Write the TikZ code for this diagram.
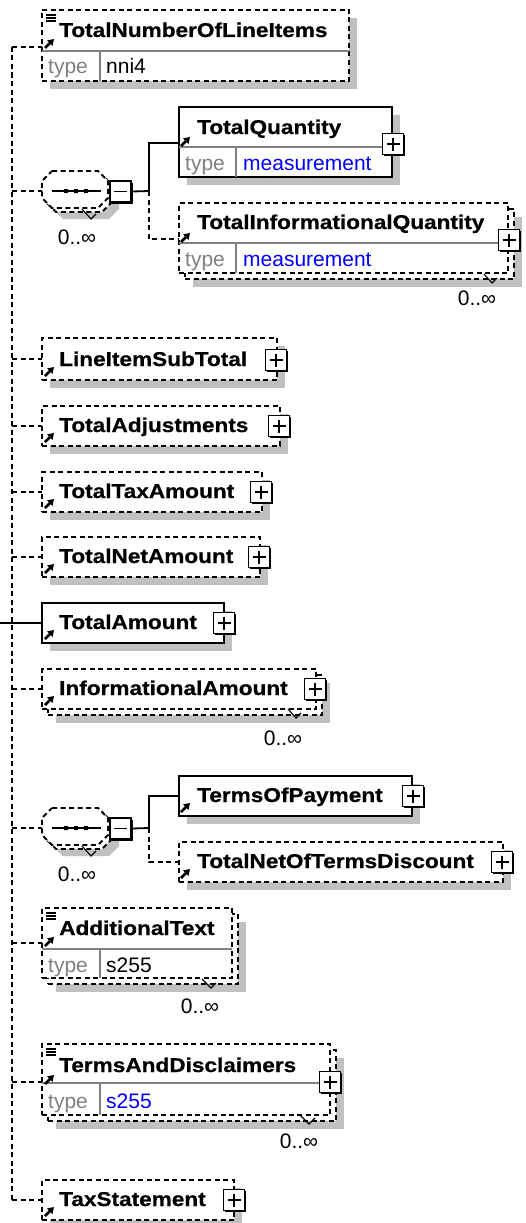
\documentclass[tikz,border=0pt]{standalone}
\usepackage{fontspec}
\setmainfont{Liberation Sans}
\newfontfamily\ttlfont[FakeBold=0.6]{Liberation Sans Bold}
\usetikzlibrary{shadows,arrows.meta,calc}
\definecolor{shd}{RGB}{192,192,192}
\definecolor{typegray}{RGB}{128,128,128}
\definecolor{valblue}{RGB}{0,0,255}
\begin{document}
\begin{tikzpicture}[x=1pt,y=-1pt,
  elem/.style={draw, fill=white, line width=1.8pt, inner sep=0pt, outer sep=0pt, anchor=north west},
  sh/.style={drop shadow={shadow xshift=8pt, shadow yshift=-8pt, fill=shd, opacity=1}},
  opt/.style={dash pattern=on 5pt off 3.5pt},
  div/.style={line width=1.2pt, draw=typegray},
  conn/.style={line width=1.8pt},
  dconn/.style={line width=1.8pt, dash pattern=on 5pt off 3.5pt},
  pbox/.style={draw, fill=white, line width=1.8pt, minimum size=21pt, inner sep=0pt,
    drop shadow={shadow xshift=1.8pt, shadow yshift=-1.8pt, fill=black, opacity=1},
    path picture={\draw[line width=1.5pt] ([xshift=4pt]path picture bounding box.west) -- ([xshift=-4pt]path picture bounding box.east)
      ([yshift=-4pt]path picture bounding box.north) -- ([yshift=4pt]path picture bounding box.south);}},
  mbox/.style={draw, fill=white, line width=1.8pt, minimum size=21pt, inner sep=0pt,
    drop shadow={shadow xshift=1.8pt, shadow yshift=-1.8pt, fill=black, opacity=1},
    path picture={\draw[line width=1.5pt] ([xshift=4pt]path picture bounding box.west) -- ([xshift=-4pt]path picture bounding box.east);}},
  ttl/.style={font=\ttlfont\fontsize{20}{20}\selectfont, xscale=1.13, anchor=base west, inner sep=0pt},
  typ/.style={font=\fontsize{21}{21}\selectfont, text=typegray, anchor=base west, inner sep=0pt},
  val/.style={font=\fontsize{21}{21}\selectfont, anchor=base west, inner sep=0pt},
  occ/.style={font=\fontsize{21}{21}\selectfont, anchor=base, inner sep=0pt},
  ico/.style={line width=2.5pt, -{Triangle[length=6pt,width=7.5pt]}},
  lst/.style={line width=1.1pt},
  notch/.style={line width=1.1pt}
]
\useasboundingbox (0,0) rectangle (526,1223);

% ---------- trunk ----------
\coordinate (ttop) at (12,47);
\coordinate (rootin) at (0,623);

% ---------- TotalNumberOfLineItems ----------
\node[elem, sh, opt, minimum width=307pt, minimum height=71pt] (tnli) at (42,10) {};
\draw[div] (42,51) -- (349,51);
\draw[div] (100,51) -- (100,81);
\node[ttl] (tnlit) at (59,37) {TotalNumberOfLineItems};
\node[typ] (tnlity) at (48,74) {type};
\node[val] (tnliv) at (106,74) {nni4};
\draw[lst] (46,15) -- (56,15) (46,18) -- (56,18) (46,21) -- (56,21);
\draw[ico] (45,48) -- (54,39);
\coordinate (tnliin) at ([yshift=-37pt]tnli.north west);

% ---------- sequence 1 ----------
\fill[shd] (63,182) -- (109,182) -- (119,192) -- (119,209) -- (109,219) -- (63,219) -- (53,209) -- (53,192) -- cycle;
\draw[line width=1.8pt, opt, fill=white] (56,175) -- (102,175) -- (112,185) -- (112,202) -- (102,212) -- (56,212) -- (46,202) -- (46,185) -- cycle;
\draw[line width=1.8pt, opt, fill=white] (52,171) -- (98,171) -- (108,181) -- (108,198) -- (98,208) -- (52,208) -- (42,198) -- (42,181) -- cycle;
\coordinate (s1w) at (42,191);
\draw[line width=1.8pt] (52,191) -- (101,191);
\fill (64,189) rectangle (68,193) (74,189) rectangle (78,193) (84,189) rectangle (88,193);
\draw[notch] (82,209) -- (91,219) -- (96,214);
\node[mbox] (m1) at (120.5,191.5) {};
\node[occ] (o1) at (77,244) {0..∞};
\coordinate (b1) at (149,191);

% TotalQuantity
\node[elem, sh, minimum width=213pt, minimum height=70pt] (tq) at (179,107) {};
\draw[div] (179,147) -- (392,147);
\draw[div] (236,147) -- (236,177);
\node[ttl] (tqt) at (197,134) {TotalQuantity};
\node[typ] (tqty) at (185,170) {type};
\node[val, text=valblue] (tqv) at (243,170) {measurement};
\draw[ico] (181,146) -- (190,137);
\node[pbox] (tqp) at (393,144) {};

% TotalInformationalQuantity
\node[elem, sh, opt, minimum width=329pt, minimum height=70pt] (tiqb) at (185,209) {};
\node[elem, opt, minimum width=329pt, minimum height=70pt] (tiq) at (179,203) {};
\draw[div] (179,243) -- (508,243);
\draw[div] (236,243) -- (236,273);
\node[ttl] (tiqt) at (197,229) {TotalInformationalQuantity};
\node[typ] (tiqty) at (185,266) {type};
\node[val, text=valblue] (tiqv) at (243,266) {measurement};
\draw[ico] (181,242) -- (190,233);
\node[pbox] (tiqp) at (509,240) {};
\draw[notch] (484,274) -- (492,283) -- (497,278);
\node[occ] (o2) at (477,305) {0..∞};

\draw[dconn] (ttop |- s1w) -- (s1w);
\draw[conn] (m1.east) -- (b1) |- ([yshift=-36pt]tq.north west);
\draw[dconn] (b1) |- ([yshift=-36pt]tiq.north west);

% ---------- simple elements ----------
\node[elem, sh, opt, minimum width=235pt, minimum height=42pt] (lis) at (42,338) {};
\node[ttl] (list) at (59,366) {LineItemSubTotal};
\draw[ico] (45,376) -- (54,367);
\node[pbox] (lisp) at (276,360) {};

\node[elem, sh, opt, minimum width=238pt, minimum height=40pt] (tadj) at (42,406) {};
\node[ttl] (tadjt) at (59,432) {TotalAdjustments};
\draw[ico] (45,442) -- (54,433);
\node[pbox] (tadjp) at (279,426) {};

\node[elem, sh, opt, minimum width=220pt, minimum height=40pt] (tta) at (42,472) {};
\node[ttl] (ttat) at (59,498) {TotalTaxAmount};
\draw[ico] (45,508) -- (54,499);
\node[pbox] (ttap) at (261,492) {};

\node[elem, sh, opt, minimum width=218pt, minimum height=40pt] (tna) at (42,537) {};
\node[ttl] (tnat) at (59,563) {TotalNetAmount};
\draw[ico] (45,573) -- (54,564);
\node[pbox] (tnap) at (259,557) {};

\node[elem, sh, minimum width=182pt, minimum height=40pt] (tam) at (42,603) {};
\node[ttl] (tamt) at (59,629) {TotalAmount};
\draw[ico] (45,639) -- (54,630);
\node[pbox] (tamp) at (224,623) {};

\node[elem, sh, opt, minimum width=274pt, minimum height=40pt] (iab) at (48,675) {};
\node[elem, opt, minimum width=274pt, minimum height=40pt] (ia) at (42,669) {};
\node[ttl] (iat) at (59,695) {InformationalAmount};
\draw[ico] (45,705) -- (54,696);
\node[pbox] (iap) at (315,689) {};
\draw[notch] (288,709) -- (296,718) -- (301,713);
\node[occ] (o3) at (283,745) {0..∞};

\draw[dconn] (ttop |- lis.west) -- (lis.west);
\draw[dconn] (ttop |- tadj.west) -- (tadj.west);
\draw[dconn] (ttop |- tta.west) -- (tta.west);
\draw[dconn] (ttop |- tna.west) -- (tna.west);
\draw[conn] (rootin) -- (tam.west);
\draw[dconn] (ttop |- ia.west) -- (ia.west);

% ---------- sequence 2 ----------
\fill[shd] (63,819) -- (109,819) -- (119,829) -- (119,846) -- (109,856) -- (63,856) -- (53,846) -- (53,829) -- cycle;
\draw[line width=1.8pt, opt, fill=white] (56,812) -- (102,812) -- (112,822) -- (112,839) -- (102,849) -- (56,849) -- (46,839) -- (46,822) -- cycle;
\draw[line width=1.8pt, opt, fill=white] (52,808) -- (98,808) -- (108,818) -- (108,835) -- (98,845) -- (52,845) -- (42,835) -- (42,818) -- cycle;
\coordinate (s2w) at (42,828);
\draw[line width=1.8pt] (52,828) -- (101,828);
\fill (64,826) rectangle (68,830) (74,826) rectangle (78,830) (84,826) rectangle (88,830);
\draw[notch] (82,846) -- (91,856) -- (96,851);
\node[mbox] (m2) at (120.5,828.5) {};
\node[occ] (o4) at (77,881) {0..∞};
\coordinate (b2) at (149,828);

\node[elem, sh, minimum width=233pt, minimum height=40pt] (top) at (179,776) {};
\node[ttl] (topt) at (197,802) {TermsOfPayment};
\draw[ico] (181,812) -- (190,803);
\node[pbox] (topp) at (413,796) {};

\node[elem, sh, opt, minimum width=324pt, minimum height=40pt] (tnotd) at (179,842) {};
\node[ttl] (tnotdt) at (197,868) {TotalNetOfTermsDiscount};
\draw[ico] (181,878) -- (190,869);
\node[pbox] (tnotdp) at (502,862) {};

\draw[dconn] (ttop |- s2w) -- (s2w);
\draw[conn] (m2.east) -- (b2) |- (top.west);
\draw[dconn] (b2) |- (tnotd.west);

% ---------- AdditionalText ----------
\node[elem, sh, opt, minimum width=190pt, minimum height=70pt] (atb) at (48,914) {};
\node[elem, opt, minimum width=190pt, minimum height=70pt] (at) at (42,908) {};
\draw[div] (42,949) -- (232,949);
\draw[div] (100,949) -- (100,978);
\node[ttl] (att) at (59,935) {AdditionalText};
\node[typ] (atty) at (48,972) {type};
\node[val] (atv) at (106,972) {s255};
\draw[lst] (46,913) -- (56,913) (46,916) -- (56,916) (46,919) -- (56,919);
\draw[ico] (45,946) -- (54,937);
\draw[notch] (202,979) -- (211,988) -- (216,983);
\node[occ] (o5) at (200,1013) {0..∞};
\coordinate (atin) at ([yshift=-35pt]at.north west);
\draw[dconn] (ttop |- atin) -- (atin);

% ---------- TermsAndDisclaimers ----------
\node[elem, sh, opt, minimum width=288pt, minimum height=71pt] (tadb) at (48,1050) {};
\node[elem, opt, minimum width=288pt, minimum height=71pt] (tad) at (42,1044) {};
\draw[div] (42,1083) -- (330,1083);
\draw[div] (100,1083) -- (100,1115);
\node[ttl] (tadt) at (59,1072) {TermsAndDisclaimers};
\node[typ] (tadty) at (48,1108) {type};
\node[val, text=valblue] (tadv) at (106,1108) {s255};
\draw[lst] (46,1049) -- (56,1049) (46,1052) -- (56,1052) (46,1055) -- (56,1055);
\draw[ico] (45,1084) -- (54,1075);
\node[pbox] (tadp) at (330,1082) {};
\draw[notch] (300,1115) -- (309,1124) -- (315,1118);
\node[occ] (o6) at (299,1148) {0..∞};
\coordinate (tadin) at ([yshift=-38pt]tad.north west);
\draw[dconn] (ttop |- tadin) -- (tadin);

% ---------- TaxStatement ----------
\node[elem, sh, opt, minimum width=192pt, minimum height=40pt] (ts) at (42,1180) {};
\node[ttl] (tst) at (59,1206) {TaxStatement};
\draw[ico] (45,1216) -- (54,1207);
\node[pbox] (tsp) at (234,1200) {};
\draw[dconn] (ttop |- ts.west) -- (ts.west);

% trunk line
\draw[dconn] (ttop) -- (ttop |- ts.west);
\draw[dconn] (ttop) -- (tnliin);
\end{tikzpicture}
\end{document}
